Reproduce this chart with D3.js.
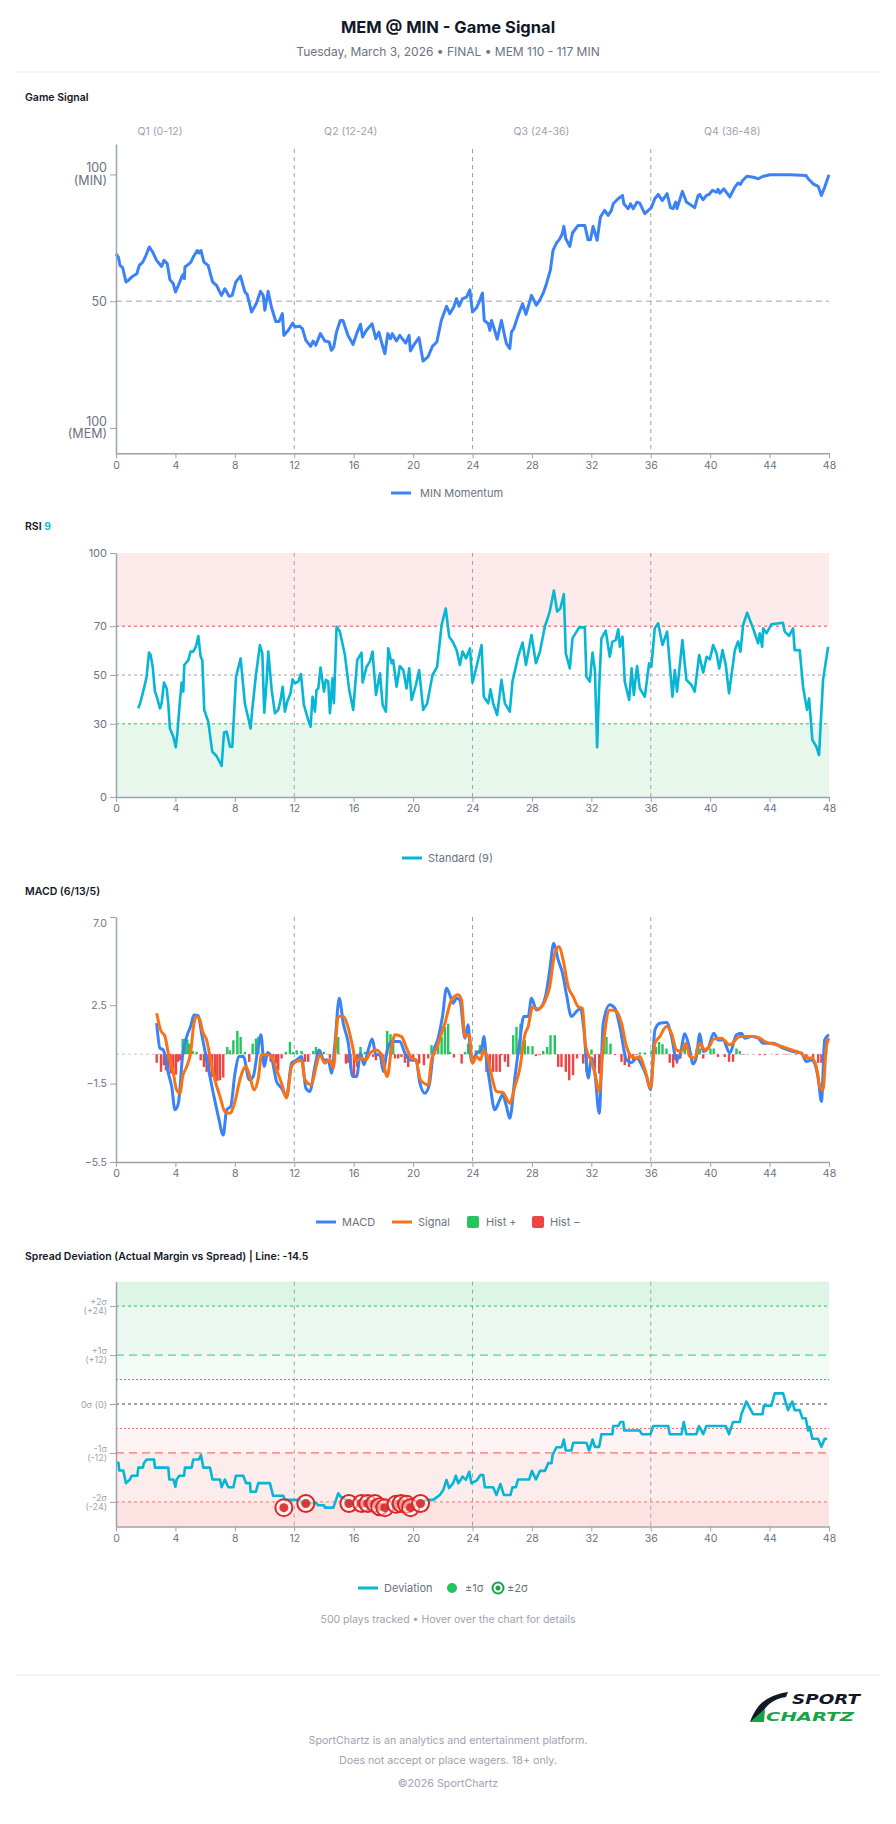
<!DOCTYPE html>
<html>
<head>
<meta charset="utf-8">
<script src="https://cdn.jsdelivr.net/npm/d3@7"></script>
<style>
  body { margin: 0; background: #fff; }
  svg text { font-family: Inter, "Noto Sans", sans-serif; }
</style>
</head>
<body>
<svg id="chart" width="896" height="1824"></svg>
<script>
// game: MEM @ MIN, minute of game on x for every panel
var quarters = ["Q1 (0-12)", "Q2 (12-24)", "Q3 (24-36)", "Q4 (36-48)"];
var minuteTicks = [0, 4, 8, 12, 16, 20, 24, 28, 32, 36, 40, 44, 48];
var quarterBreaks = [12, 24, 36];

// MIN win momentum, 0 = MEM 100, 100 = MIN 100
var gameSignal = [
  [0,68.7],[0.16,67.4],[0.27,64.1],[0.45,63.2],[0.67,57.6],[0.83,58.2],[1.05,59.5],[1.4,60.8],[1.57,64.1],
  [1.8,65.4],[2.02,68.1],[2.24,71.4],[2.47,69.4],[2.73,66.1],[3.07,63.7],[3.23,66.1],[3.45,64.8],[3.63,58.5],
  [3.86,56.9],[4.0,53.6],[4.2,56.2],[4.42,59.5],[4.53,60.6],[4.6,58.9],[4.64,63.5],[4.87,64.5],[5.04,65.4],
  [5.2,67.4],[5.47,70.0],[5.6,69.0],[5.72,70.0],[5.92,65.4],[6.2,64.1],[6.5,57.6],[6.77,56.2],[7.1,52.3],
  [7.33,54.9],[7.62,51.9],[7.82,52.3],[8.07,57.6],[8.38,59.9],[8.68,53.6],[8.83,52.7],[9.13,45.7],[9.46,49.3],
  [9.73,53.9],[9.91,52.3],[10.02,46.4],[10.24,53.9],[10.46,47.7],[10.76,42.0],[10.98,42.0],[11.2,45.1],
  [11.3,36.5],[11.6,38.5],[11.9,41.4],[12.04,39.8],[12.37,40.1],[12.55,39.2],[12.78,34.6],[13.1,32.2],
  [13.27,34.3],[13.45,32.6],[13.76,37.2],[14.06,34.3],[14.35,33.9],[14.5,30.6],[14.66,31.9],[14.84,37.8],
  [15.1,42.4],[15.28,42.4],[15.62,36.5],[15.96,32.9],[16.2,37.2],[16.46,40.9],[16.6,35.9],[16.86,38.5],
  [17.24,41.1],[17.49,35.2],[17.7,37.8],[17.87,33.9],[18.1,29.3],[18.3,37.2],[18.48,35.2],[18.6,37.2],
  [18.88,34.3],[19.1,36.5],[19.5,33.5],[19.73,36.5],[19.82,30.4],[20.1,33.2],[20.4,35.6],[20.67,26.4],
  [21.0,28.0],[21.3,32.2],[21.6,33.9],[21.9,42.4],[22.25,48.0],[22.47,45.1],[22.74,47.7],[22.92,51.0],
  [23.1,48.0],[23.33,51.0],[23.6,51.6],[23.82,54.5],[24.0,45.7],[24.27,47.4],[24.45,49.7],[24.67,53.2],
  [24.79,42.4],[25.06,41.1],[25.17,38.5],[25.28,42.4],[25.46,39.2],[25.66,35.0],[25.95,42.4],[26.18,35.9],
  [26.29,33.2],[26.51,31.3],[26.62,37.8],[26.78,39.2],[27.07,44.4],[27.37,49.0],[27.6,44.8],[27.97,52.3],
  [28.3,48.4],[28.52,50.3],[28.79,53.6],[28.98,56.9],[29.24,62.2],[29.42,70.0],[29.65,72.9],[29.87,74.6],
  [30.05,76.6],[30.15,79.5],[30.28,74.6],[30.55,71.6],[30.73,76.9],[31.11,79.9],[31.56,79.9],[31.78,74.2],
  [31.94,74.2],[32.12,79.5],[32.39,74.0],[32.61,83.2],[32.9,85.8],[33.13,83.8],[33.35,85.8],[33.47,88.4],
  [33.8,90.4],[34.1,91.7],[34.19,88.4],[34.48,86.5],[34.64,88.4],[34.82,86.5],[35.08,89.1],[35.26,88.7],
  [35.6,84.5],[36.04,86.9],[36.27,90.4],[36.5,92.1],[36.78,89.7],[37.1,92.4],[37.33,86.9],[37.5,86.5],
  [37.68,89.1],[37.77,86.5],[38.13,93.3],[38.4,89.1],[38.73,87.8],[38.96,86.9],[39.19,91.7],[39.3,92.1],
  [39.52,90.0],[39.75,91.7],[39.93,92.1],[40.15,93.7],[40.42,93.0],[40.53,94.1],[40.65,92.6],[40.92,94.3],
  [41.32,91.1],[41.66,95.0],[41.88,96.6],[42.04,96.1],[42.18,97.6],[42.49,99.3],[42.9,98.9],[43.24,98.3],
  [43.53,99.2],[44.02,99.9],[45.37,99.9],[46.45,99.6],[46.6,98.3],[46.93,96.3],[47.27,95.3],[47.49,91.7],
  [47.71,95.0],[48.0,99.9]
];

var rsi = [
  [1.5,36.3],[1.66,39.1],[1.88,44.5],[2.06,49.3],[2.22,59.2],[2.33,58.2],[2.47,53.4],[2.62,43.2],[2.78,40.4],
  [2.96,36.3],[3.07,38.4],[3.23,46.9],[3.41,44.5],[3.52,38.4],[3.63,28.1],[3.86,24.7],[4.02,20.4],[4.13,26.1],
  [4.31,39.8],[4.42,46.9],[4.53,43.2],[4.6,54.1],[4.87,56.1],[5.02,59.6],[5.2,59.6],[5.38,61.6],[5.54,66.0],
  [5.7,57.5],[5.81,56.1],[5.94,35.7],[6.21,30.9],[6.48,18.6],[6.77,16.8],[7.11,12.7],[7.27,26.4],[7.45,26.8],
  [7.67,20.6],[7.83,20.6],[8.08,49.3],[8.39,56.8],[8.68,38.1],[8.91,32.2],[9.06,28.1],[9.17,35.7],[9.42,50.0],
  [9.69,62.3],[9.85,58.9],[9.98,34.6],[10.14,47.3],[10.25,59.6],[10.48,43.9],[10.7,34.3],[10.92,35.7],
  [11.08,39.8],[11.22,45.2],[11.37,35.0],[11.53,39.1],[11.75,42.5],[11.89,48.2],[12.05,46.6],[12.27,47.3],
  [12.45,50.4],[12.65,37.7],[12.94,31.6],[13.1,28.8],[13.23,41.1],[13.39,35.0],[13.5,43.9],[13.62,44.5],
  [13.77,53.1],[14.0,43.2],[14.13,48.0],[14.29,47.3],[14.4,34.3],[14.58,48.6],[14.67,38.4],[14.85,69.8],
  [15.07,67.8],[15.41,58.2],[15.7,43.9],[15.97,35.7],[16.24,56.1],[16.53,59.2],[16.6,46.9],[16.87,53.4],
  [17.09,55.5],[17.27,59.6],[17.5,41.8],[17.77,50.7],[17.95,37.7],[18.17,35.0],[18.33,60.9],[18.55,54.8],
  [18.66,56.1],[18.89,45.2],[19.11,53.7],[19.34,52.0],[19.56,44.5],[19.74,52.7],[19.9,39.8],[20.19,45.9],
  [20.41,52.0],[20.68,35.7],[20.95,38.4],[21.31,50.0],[21.62,53.4],[21.92,70.5],[22.2,77.3],[22.43,65.7],
  [22.7,63.3],[22.93,60.2],[23.15,54.1],[23.33,59.6],[23.56,56.8],[23.83,60.9],[24.0,46.9],[24.27,53.4],
  [24.61,62.3],[24.76,41.1],[25.06,38.4],[25.21,44.1],[25.39,38.4],[25.66,33.6],[25.95,48.0],[26.18,38.4],
  [26.51,35.0],[26.69,47.3],[27.07,57.5],[27.37,63.3],[27.6,54.1],[27.97,66.4],[28.27,54.8],[28.54,59.6],
  [28.87,69.8],[29.2,76.0],[29.48,84.6],[29.7,76.0],[29.92,77.3],[30.15,83.2],[30.28,58.9],[30.55,52.7],
  [30.73,65.0],[31.18,69.5],[31.56,69.5],[31.67,49.3],[31.9,47.3],[32.08,59.2],[32.24,52.0],[32.39,20.4],
  [32.53,45.2],[32.68,65.0],[32.97,68.2],[33.24,57.5],[33.42,63.7],[33.65,64.3],[33.81,68.7],[33.92,61.6],
  [34.1,65.7],[34.25,47.3],[34.55,39.8],[34.71,52.7],[34.86,41.8],[35.08,53.7],[35.26,44.5],[35.6,41.1],
  [35.89,54.8],[36.04,53.4],[36.27,69.1],[36.5,71.2],[36.79,62.3],[37.1,67.8],[37.46,41.1],[37.62,52.0],
  [37.77,43.2],[38.13,64.3],[38.4,48.0],[38.74,45.9],[38.96,43.2],[39.26,58.2],[39.53,51.0],[39.76,57.5],
  [39.98,56.4],[40.2,62.3],[40.43,58.9],[40.61,52.7],[40.83,60.2],[41.05,54.1],[41.27,42.5],[41.66,60.2],
  [41.88,63.7],[42.04,59.6],[42.22,70.5],[42.49,75.5],[42.89,69.1],[43.23,63.0],[43.34,67.1],[43.5,61.6],
  [43.57,69.1],[43.79,67.1],[44.12,70.8],[44.9,71.4],[45.02,67.8],[45.31,66.0],[45.58,69.1],[45.69,60.2],
  [46.03,60.2],[46.25,45.2],[46.52,35.7],[46.66,40.4],[46.88,23.4],[47.15,20.6],[47.33,17.2],[47.6,48.0],
  [47.94,61.6]
];
var rsiTicks = [0, 30, 50, 70, 100];

var macd = [
  [2.74,1.58],[2.96,0.31],[3.18,0.22],[3.52,-0.97],[3.75,-1.65],[3.97,-2.84],[4.2,-2.5],[4.49,-0.03],[4.76,0.9],
  [5.02,1.41],[5.25,2.0],[5.54,1.96],[5.76,1.07],[6.1,-0.29],[6.55,-1.99],[6.89,-3.18],[7.22,-4.12],[7.45,-2.84],
  [7.72,-2.67],[8.01,-0.97],[8.3,-0.12],[8.57,-0.12],[8.98,-1.31],[9.24,-1.14],[9.51,0.05],[9.76,0.99],
  [9.98,-0.63],[10.21,0.09],[10.48,-0.2],[10.81,-1.39],[11.15,-1.73],[11.48,-2.16],[11.82,-0.46],[12.16,-0.29],
  [12.49,-0.12],[12.78,-1.73],[13.05,-1.9],[13.39,-0.63],[13.68,0.22],[13.99,-0.29],[14.29,-0.29],[14.51,-0.97],
  [14.74,0.56],[15.03,2.86],[15.3,1.58],[15.64,0.56],[15.93,-1.14],[16.2,-1.14],[16.46,0.05],[16.69,-0.54],
  [16.98,0.22],[17.25,0.77],[17.5,-0.03],[17.77,-0.03],[17.99,-0.88],[18.26,0.22],[18.55,0.65],[19.11,0.65],
  [19.45,0.05],[19.78,-0.29],[20.19,-0.29],[20.46,-1.48],[20.79,-1.99],[21.09,-1.56],[21.36,0.05],[21.69,0.82],
  [21.98,1.92],[22.25,3.37],[22.47,3.03],[22.7,2.6],[22.93,2.86],[23.15,2.77],[23.49,0.82],[23.7,1.5],
  [23.93,-0.37],[24.27,0.05],[24.61,0.22],[24.76,0.9],[24.94,-0.29],[25.17,-1.48],[25.5,-2.84],[25.79,-2.41],
  [26.02,-2.07],[26.29,-2.67],[26.51,-3.27],[26.85,-1.22],[27.19,0.73],[27.45,1.92],[27.75,1.92],[27.97,2.86],
  [28.3,2.26],[28.64,2.43],[28.94,3.03],[29.2,4.3],[29.47,5.66],[29.77,4.81],[30.06,4.13],[30.33,3.03],
  [30.66,1.92],[31.0,2.18],[31.27,2.35],[31.5,1.24],[31.79,-1.22],[32.01,-0.2],[32.24,-0.97],[32.53,-3.01],
  [32.8,1.58],[33.24,2.52],[33.58,2.35],[33.92,1.41],[34.37,-0.29],[34.71,-0.43],[35.05,-0.2],[35.38,-0.54],
  [35.72,-1.14],[35.99,-1.82],[36.28,1.24],[36.61,1.58],[37.06,1.62],[37.4,0.9],[37.73,-0.29],[38.0,0.05],
  [38.29,1.04],[38.58,0.39],[38.85,-0.49],[39.08,-0.12],[39.3,1.04],[39.53,0.14],[39.86,0.31],[40.24,1.07],
  [40.54,0.73],[40.87,0.73],[41.32,0.05],[41.77,0.99],[42.1,1.07],[42.33,0.82],[42.78,0.9],[43.23,0.82],
  [43.56,0.56],[44.24,0.56],[44.91,0.31],[45.58,0.14],[46.14,0.05],[46.48,-0.37],[46.82,-0.29],[47.26,-1.14],
  [47.49,-2.41],[47.71,0.73],[48.0,0.99]
];

var signal = [
  [2.74,2.09],[3.0,1.24],[3.3,0.9],[3.52,0.05],[3.86,-0.97],[4.08,-1.82],[4.31,-1.99],[4.49,-1.14],[4.76,-0.63],
  [5.02,0.05],[5.25,1.58],[5.43,1.92],[5.65,1.75],[5.83,1.16],[6.1,0.73],[6.37,-0.29],[6.66,-1.31],[7.0,-2.16],
  [7.33,-2.93],[7.67,-3.01],[8.01,-2.41],[8.34,-1.31],[8.74,-0.63],[9.02,-1.14],[9.28,-1.82],[9.58,-1.22],
  [9.8,-0.03],[10.14,-0.03],[10.48,-0.12],[10.81,-0.8],[11.15,-1.48],[11.48,-2.24],[11.82,-0.63],[12.16,-0.37],
  [12.49,-0.32],[12.72,-1.31],[13.16,-1.56],[13.45,-0.71],[13.72,-0.03],[14.06,-0.46],[14.4,-0.29],[14.63,-0.71],
  [14.96,1.92],[15.3,1.92],[15.64,1.33],[15.93,0.39],[16.15,-0.37],[16.46,-0.2],[16.82,-0.29],[17.09,0.05],
  [17.5,0.22],[17.88,-0.03],[18.26,-1.14],[18.55,0.31],[18.78,0.99],[19.22,0.9],[19.56,0.31],[19.9,-0.2],
  [20.19,-0.29],[20.5,-1.31],[21.02,-1.56],[21.24,-0.29],[21.58,0.31],[21.92,1.07],[22.14,1.58],[22.59,2.77],
  [23.04,3.03],[23.26,2.77],[23.49,0.9],[23.78,0.99],[24.0,-0.46],[24.27,-0.12],[24.54,-0.29],[24.76,0.22],
  [25.06,-0.29],[25.35,-1.31],[25.61,-1.9],[26.06,-1.96],[26.51,-2.5],[26.85,-1.65],[27.19,-0.71],[27.52,0.99],
  [27.75,1.41],[28.04,2.4],[28.42,2.3],[28.87,2.69],[29.2,3.45],[29.54,5.15],[29.83,5.49],[30.1,4.81],
  [30.44,3.45],[30.78,2.94],[31.11,2.43],[31.4,2.35],[31.62,0.39],[32.01,-0.37],[32.24,-0.97],[32.53,-1.9],
  [32.8,0.39],[33.24,2.26],[33.69,2.18],[34.03,1.58],[34.37,0.39],[34.71,-0.12],[35.05,-0.2],[35.27,-0.12],
  [35.61,-0.8],[35.99,-1.73],[36.28,0.56],[36.61,0.9],[37.06,1.41],[37.4,1.07],[37.73,0.22],[38.07,0.14],
  [38.36,0.56],[38.63,-0.12],[38.97,-0.2],[39.3,0.56],[39.64,0.22],[39.94,0.39],[40.24,0.77],[40.76,0.82],
  [41.32,0.48],[42.0,0.9],[42.89,0.9],[43.34,0.82],[43.68,0.65],[44.46,0.48],[45.13,0.31],[45.8,0.14],
  [46.14,0.05],[46.48,-0.2],[46.82,-0.2],[47.15,-0.63],[47.37,-1.65],[47.6,-1.82],[47.82,0.39],[48.0,0.82]
];

var histogram = [
  [2.74,-0.44],[3.03,-0.9],[3.23,-0.56],[3.36,-0.82],[3.52,-0.73],[3.68,-0.99],[3.86,-1.04],[4.04,-1.04],
  [4.19,-0.39],[4.31,-0.31],[4.49,0.78],[4.64,0.78],[4.8,0.75],[4.93,0.54],[5.16,0.17],[5.43,0.12],
  [5.7,-0.31],[5.92,-0.65],[6.1,-0.9],[6.28,-1.07],[6.46,-1.16],[6.66,-1.33],[6.82,-1.36],[7.0,-1.33],
  [7.22,-1.19],[7.49,0.37],[7.67,0.2],[7.9,0.71],[8.17,1.19],[8.39,0.88],[8.68,0.12],[8.97,-0.39],
  [9.2,0.54],[9.42,0.8],[9.58,0.88],[9.8,-0.14],[9.98,-0.17],[10.14,-0.14],[10.41,-0.39],[10.59,-0.39],
  [10.77,-0.48],[10.92,-0.82],[11.15,-0.22],[11.44,0.12],[11.71,0.63],[11.93,0.12],[12.16,0.2],[12.49,0.17],
  [12.72,-0.39],[12.94,-0.39],[13.28,0.17],[13.46,0.37],[13.73,0.2],[14.0,0.12],[14.4,-0.22],[14.96,0.88],
  [15.48,-0.48],[15.64,-0.44],[15.79,-0.73],[16.02,-1.07],[16.24,-0.65],[16.46,0.37],[16.76,0.12],
  [16.98,0.12],[17.32,-0.14],[17.5,-0.31],[17.77,0.12],[17.99,-0.39],[18.26,1.19],[18.48,1.02],[18.66,0.8],
  [18.78,-0.22],[19.0,-0.22],[19.22,-0.14],[19.45,-0.44],[19.67,-0.65],[20.01,-0.39],[20.41,-0.48],
  [20.73,-0.56],[21.02,-0.22],[21.24,0.46],[21.47,0.46],[21.69,0.54],[21.92,0.88],[22.14,1.39],[22.36,1.56],
  [22.48,0.12],[22.75,-0.17],[23.27,-0.48],[23.49,0.12],[23.71,0.54],[24.23,0.2],[24.5,0.46],[24.94,-0.9],
  [25.17,-0.9],[25.39,-0.9],[25.61,-0.9],[25.84,-0.9],[25.95,-0.05],[26.18,-0.39],[26.4,-0.65],[26.74,0.97],
  [26.96,1.39],[27.23,1.56],[27.52,0.71],[27.75,0.41],[28.04,0.41],[28.27,-0.1],[28.53,-0.05],[28.76,0.17],
  [29.03,0.37],[29.25,0.97],[29.54,0.97],[29.77,-0.65],[29.99,-0.65],[30.28,-0.9],[30.51,-1.33],[30.77,-1.07],
  [31.04,-0.22],[31.45,-0.48],[31.67,-0.9],[32.01,0.24],[32.24,-0.73],[32.53,-0.99],[32.84,0.54],[33.02,0.88],
  [33.29,0.54],[33.58,-0.05],[34.03,-0.39],[34.25,-0.56],[34.54,-0.65],[34.81,-0.31],[35.04,-0.05],
  [35.27,0.09],[35.6,0.09],[36.05,0.2],[36.34,0.37],[36.56,0.63],[36.79,0.51],[37.06,0.29],[37.28,-0.44],
  [37.51,-0.68],[37.77,-0.48],[38.0,-0.22],[38.29,0.37],[38.63,-0.14],[39.08,0.29],[39.3,0.29],[39.53,-0.22],
  [40.02,0.29],[40.24,0.29],[40.53,-0.14],[40.98,-0.14],[41.27,-0.39],[41.54,-0.39],[41.77,0.29],[41.99,0.17],
  [42.26,-0.03],[43.34,-0.05],[43.67,-0.05],[44.46,-0.03],[45.13,-0.03],[45.8,-0.03],[46.48,-0.22],
  [46.93,-0.22],[47.27,-0.44],[47.49,-0.44],[47.82,0.71]
];
var macdTicks = [-5.5, -1.5, 2.5, 7.0];

// actual margin minus spread (MIN perspective), sigma = 12
var deviation = [
  [0,-14.4],[0.16,-14.4],[0.22,-16.3],[0.49,-16.3],[0.67,-19.4],[0.94,-18.5],[1.05,-17.6],[1.44,-17.6],
  [1.5,-15.6],[1.8,-15.6],[1.88,-14.5],[2.06,-13.6],[2.56,-13.6],[2.62,-15.6],[3.52,-15.6],[3.59,-18.5],
  [3.86,-18.5],[4.0,-20.3],[4.08,-18.5],[4.26,-17.6],[4.58,-17.6],[4.64,-15.6],[5.09,-15.6],[5.2,-13.6],
  [5.58,-13.6],[5.72,-12.5],[5.88,-15.6],[6.33,-15.6],[6.5,-18.5],[7.0,-18.5],[7.11,-20.4],[7.33,-18.5],
  [7.56,-20.4],[7.9,-20.4],[8.07,-17.6],[8.57,-17.6],[8.75,-19.4],[9.02,-19.4],[9.06,-21.5],[9.42,-21.5],
  [9.58,-19.4],[10.36,-19.4],[10.58,-22.5],[11.26,-22.5],[11.37,-23.5],[12.38,-23.5],[12.49,-24.3],
  [13.5,-24.3],[13.6,-24.8],[14.0,-24.8],[14.06,-25.4],[14.63,-25.4],[14.74,-24.3],[14.96,-21.9],
  [15.12,-22.7],[15.52,-23.5],[15.68,-24.4],[16.1,-24.4],[16.2,-23.5],[16.5,-24.4],[17.4,-24.4],[17.6,-25.2],
  [18.1,-25.4],[18.5,-24.8],[18.9,-24.4],[19.5,-24.4],[19.8,-25.4],[20.2,-24.4],[20.5,-24.4],[20.9,-23.5],
  [21.36,-23.5],[21.8,-22.3],[22.03,-21.1],[22.25,-18.6],[22.43,-20.6],[22.7,-19.4],[22.88,-17.6],
  [23.04,-19.4],[23.2,-18.6],[23.33,-17.8],[23.56,-18.6],[23.78,-16.6],[23.93,-19.4],[24.27,-18.8],
  [24.54,-17.4],[24.72,-17.4],[24.83,-20.4],[25.39,-20.4],[25.61,-22.3],[25.88,-19.6],[26.11,-22.3],
  [26.56,-22.3],[26.69,-20.4],[26.92,-20.4],[27.07,-18.5],[27.82,-18.5],[28.0,-16.4],[28.27,-18.5],
  [28.54,-16.4],[28.87,-16.4],[29.1,-14.5],[29.32,-14.5],[29.39,-12.5],[29.66,-10.6],[30.0,-10.6],
  [30.15,-8.7],[30.28,-11.4],[30.66,-11.4],[30.78,-9.5],[31.67,-9.5],[31.85,-11.4],[32.08,-8.7],
  [32.24,-10.5],[32.53,-10.5],[32.68,-7.4],[33.42,-7.4],[33.47,-5.4],[33.81,-5.4],[33.96,-4.4],[34.15,-4.4],
  [34.21,-6.5],[35.26,-6.5],[35.4,-7.4],[35.98,-7.4],[36.16,-5.4],[37.17,-5.4],[37.28,-7.4],[38.07,-7.4],
  [38.22,-4.4],[38.4,-7.4],[39.07,-7.4],[39.25,-5.4],[39.53,-7.4],[39.75,-5.4],[41.05,-5.4],[41.27,-7.4],
  [41.54,-4.4],[42.0,-4.4],[42.1,-2.5],[42.44,0.6],[42.89,-2.5],[43.52,-2.5],[43.61,-0.4],[44.12,-0.4],
  [44.35,2.6],[44.91,2.6],[45.24,-1.5],[45.53,0.6],[45.69,-1.5],[46.03,-1.5],[46.21,-3.5],[46.43,-3.5],
  [46.59,-6.5],[46.7,-5.6],[46.88,-8.5],[47.26,-8.5],[47.49,-10.5],[47.71,-8.5],[47.87,-8.5]
];
// plays that crossed 2 sigma
var twoSigmaPlays = [
  [11.3,-25.4],[12.78,-24.4],[15.68,-24.4],[16.53,-24.4],[16.95,-24.4],[17.43,-24.4],[17.75,-25.2],
  [18.1,-25.4],[18.85,-24.6],[19.2,-24.4],[19.56,-24.6],[19.83,-25.4],[20.5,-24.4]
];
var sigmaLabels = [
  { v: 24, lines: ["+2σ", "(+24)"] },
  { v: 12, lines: ["+1σ", "(+12)"] },
  { v: 0, lines: ["0σ (0)"] },
  { v: -12, lines: ["-1σ", "(-12)"] },
  { v: -24, lines: ["-2σ", "(-24)"] }
];
var footerLines = ["SportChartz is an analytics and entertainment platform.", "Does not accept or place wagers. 18+ only.", "©2026 SportChartz"];

var ink = "#111827", muted = "#6b7280", faint = "#9ca3af";
var blue = "#3b82f6", cyan = "#06b6d4", orange = "#f97316", green = "#22c55e", red = "#ef4444";

var svg = d3.select("#chart");
var x = d3.scaleLinear().domain([0, 48]).range([116, 829]);

// ---- header
svg.append("text").attr("x", 448).attr("y", 33).attr("text-anchor", "middle")
  .attr("font-size", 16.5).attr("font-weight", 700).attr("fill", ink)
  .text("MEM @ MIN - Game Signal");
svg.append("text").attr("x", 448).attr("y", 56).attr("text-anchor", "middle")
  .attr("font-size", 12).attr("fill", muted)
  .text("Tuesday, March 3, 2026 • FINAL • MEM 110 - 117 MIN");
svg.append("line").attr("x1", 16).attr("x2", 880).attr("y1", 72).attr("y2", 72)
  .attr("stroke", "#e5e7eb");

function sectionTitle(y, text, accent) {
  var t = svg.append("text").attr("x", 25).attr("y", y).attr("font-size", 10.5)
    .attr("font-weight", 600).attr("fill", ink).text(text);
  if (accent) t.append("tspan").attr("fill", cyan).text(" " + accent);
}

function styleAxis(a, size) {
  a.select(".domain").attr("stroke", faint).attr("stroke-width", 1.5);
  a.selectAll(".tick line").attr("stroke", faint);
  a.selectAll(".tick text").attr("fill", muted).style("font-size", (size || 10.5) + "px");
}

function xAxis(y0) {
  var a = svg.append("g").attr("transform", "translate(0," + y0 + ")")
    .call(d3.axisBottom(x).tickValues(minuteTicks).tickSize(5).tickSizeOuter(0).tickPadding(3));
  styleAxis(a);
}

function yAxis(scale, ticks, fmt, size) {
  var a = svg.append("g").attr("transform", "translate(" + x(0) + ",0)")
    .call(d3.axisLeft(scale).tickValues(ticks).tickFormat(fmt).tickSize(6).tickSizeOuter(0).tickPadding(3));
  styleAxis(a, size);
  return a;
}

function quarterLines(top, bottom) {
  svg.append("g").selectAll("line").data(quarterBreaks).enter().append("line")
    .attr("x1", d => x(d)).attr("x2", d => x(d)).attr("y1", top).attr("y2", bottom)
    .attr("stroke", faint).attr("stroke-dasharray", "4,4");
}

function hline(yv, color, dash, width) {
  svg.append("line").attr("x1", x(0)).attr("x2", x(48)).attr("y1", yv).attr("y2", yv)
    .attr("stroke", color).attr("stroke-dasharray", dash).attr("stroke-width", width || 1);
}

// multi-line tick labels (two short lines stacked on the tick)
function stackLabels(axisG, linesFor, color) {
  axisG.selectAll(".tick").each(function (d) {
    var lines = linesFor(d);
    var t = d3.select(this).select("text").attr("dy", null);
    if (color) t.attr("fill", color);
    lines.forEach(function (s, i) {
      t.append("tspan").attr("x", -9)
        .attr("dy", i == 0 ? (lines.length > 1 ? "-0.2em" : "0.35em") : "1em").text(s);
    });
  });
}

function legend(y0, items) {
  var g = svg.append("g").attr("transform", "translate(0," + y0 + ")");
  items.forEach(function (it) {
    if (it.kind == "line") {
      g.append("line").attr("x1", it.x).attr("x2", it.x + 20).attr("y1", 0).attr("y2", 0)
        .attr("stroke", it.color).attr("stroke-width", 3);
    } else if (it.kind == "box") {
      g.append("rect").attr("x", it.x).attr("y", -6).attr("width", 12).attr("height", 12).attr("rx", 2)
        .attr("fill", it.color);
    } else if (it.kind == "dot") {
      g.append("circle").attr("cx", it.x + 5).attr("cy", 0).attr("r", 5).attr("fill", it.color);
    } else if (it.kind == "ring") {
      g.append("circle").attr("cx", it.x + 6).attr("cy", 0).attr("r", 5.5).attr("fill", "none")
        .attr("stroke", it.color).attr("stroke-width", 2);
      g.append("circle").attr("cx", it.x + 6).attr("cy", 0).attr("r", 2.5).attr("fill", it.color);
    }
    g.append("text").attr("x", it.tx).attr("y", 0).attr("dy", "0.35em").attr("font-size", 11)
      .attr("fill", muted).text(it.label);
  });
}

// ---- 1. Game Signal
sectionTitle(101, "Game Signal");
var y1 = d3.scaleLinear().domain([-10, 112]).range([453.3, 144]);
var qBand = d3.scaleBand().domain(quarters).range([64.6, 827.6]);
svg.append("g").selectAll("text").data(quarters).enter().append("text")
  .attr("x", d => qBand(d) + qBand.bandwidth() / 2).attr("y", 131).attr("dy", "0.35em")
  .attr("text-anchor", "middle").attr("font-size", 10.5).attr("fill", faint).text(d => d);
quarterLines(149, y1(-10));
hline(y1(50), faint, "6,4");
svg.append("path").datum(gameSignal)
  .attr("fill", "none").attr("stroke", blue).attr("stroke-width", 3).attr("stroke-linejoin", "round")
  .attr("d", d3.line().x(d => x(d[0])).y(d => y1(d[1])));
var a1 = yAxis(y1, [0, 50, 100], () => "", 12.5);
var y1Labels = { 100: ["100", "(MIN)"], 50: ["50"], 0: ["100", "(MEM)"] };
stackLabels(a1, d => y1Labels[d]);
xAxis(y1(-10));
legend(493, [{ kind: "line", x: 391, color: blue, tx: 420, label: "MIN Momentum" }]);

// ---- 2. RSI
sectionTitle(530, "RSI", "9");
var y2 = d3.scaleLinear().domain([0, 100]).range([797, 553]);
svg.append("rect").attr("x", x(0)).attr("width", x(48) - x(0)).attr("y", y2(100)).attr("height", y2(70) - y2(100))
  .attr("fill", "#fdeaea");
svg.append("rect").attr("x", x(0)).attr("width", x(48) - x(0)).attr("y", y2(30)).attr("height", y2(0) - y2(30))
  .attr("fill", "#e7f7ec");
quarterLines(y2(100), y2(0));
hline(y2(70), red, "3,3");
hline(y2(50), faint, "3,3");
hline(y2(30), green, "3,3");
svg.append("path").datum(rsi)
  .attr("fill", "none").attr("stroke", cyan).attr("stroke-width", 2.6).attr("stroke-linejoin", "round")
  .attr("d", d3.line().x(d => x(d[0])).y(d => y2(d[1])));
yAxis(y2, rsiTicks, d3.format("d"), 11);
xAxis(y2(0));
legend(858, [{ kind: "line", x: 402, color: cyan, tx: 428, label: "Standard (9)" }]);

// ---- 3. MACD
sectionTitle(895, "MACD (6/13/5)");
var y3 = d3.scaleLinear().domain([-5.5, 7]).range([1162, 917]);
quarterLines(y3(7), y3(-5.5));
hline(y3(0), "#c4c8cf", "3,3");
svg.append("g").selectAll("rect").data(histogram).enter().append("rect")
  .attr("x", d => x(d[0]) - 1.2).attr("width", 2.4)
  .attr("y", d => Math.min(y3(0), y3(d[1]))).attr("height", d => Math.abs(y3(d[1]) - y3(0)))
  .attr("fill", d => d[1] >= 0 ? green : red);
var smooth = d3.line().curve(d3.curveMonotoneX).x(d => x(d[0])).y(d => y3(d[1]));
svg.append("path").datum(macd).attr("fill", "none").attr("stroke", blue).attr("stroke-width", 3).attr("d", smooth);
svg.append("path").datum(signal).attr("fill", "none").attr("stroke", orange).attr("stroke-width", 3).attr("d", smooth);
var a3 = yAxis(y3, macdTicks, d3.format(".1f"));
a3.selectAll(".tick text").filter(d => d == 7).attr("dy", "0.95em");
xAxis(y3(-5.5));
legend(1222, [
  { kind: "line", x: 316, color: blue, tx: 342, label: "MACD" },
  { kind: "line", x: 392, color: orange, tx: 418, label: "Signal" },
  { kind: "box", x: 467, color: green, tx: 486, label: "Hist +" },
  { kind: "box", x: 532, color: red, tx: 550, label: "Hist −" }
]);

// ---- 4. Spread deviation
sectionTitle(1260, "Spread Deviation (Actual Margin vs Spread) | Line: -14.5");
var y4 = d3.scaleLinear().domain([-30, 30]).range([1526.4, 1281.6]);
var zones = [[24, 30, "#dcf5e5"], [12, 24, "#ebf8f0"], [6, 12, "#f3fbf6"],
             [-12, -6, "#fef4f4"], [-24, -12, "#fdecec"], [-30, -24, "#fde2e2"]];
svg.append("g").selectAll("rect").data(zones).enter().append("rect")
  .attr("x", x(0)).attr("width", x(48) - x(0))
  .attr("y", d => y4(d[1])).attr("height", d => y4(d[0]) - y4(d[1])).attr("fill", d => d[2]);
quarterLines(y4(30), y4(-30));
hline(y4(24), green, "3,3");
hline(y4(12), "#4ade80", "8,5", 1.2);
hline(y4(6), green, "2,2");
hline(y4(0), faint, "3,3", 2);
hline(y4(-6), "#f87171", "2,2");
hline(y4(-12), "#f87171", "8,5", 1.2);
hline(y4(-24), "#f87171", "3,3");
svg.append("path").datum(deviation)
  .attr("fill", "none").attr("stroke", cyan).attr("stroke-width", 2.6).attr("stroke-linejoin", "round")
  .attr("d", d3.line().x(d => x(d[0])).y(d => y4(d[1])));
var marks = svg.append("g").selectAll("g").data(twoSigmaPlays).enter().append("g")
  .attr("transform", d => "translate(" + x(d[0]) + "," + y4(d[1]) + ")");
marks.append("circle").attr("r", 8.5).attr("fill", "rgba(255,255,255,0.5)").attr("stroke", "#dc2626").attr("stroke-width", 2);
marks.append("circle").attr("r", 4.5).attr("fill", "#dc2626").attr("opacity", 0.9);
var a4 = yAxis(y4, sigmaLabels.map(d => d.v), () => "", 9);
stackLabels(a4, d => sigmaLabels.find(s => s.v == d).lines, faint);
xAxis(y4(-30));
legend(1588, [
  { kind: "line", x: 358, color: cyan, tx: 384, label: "Deviation" },
  { kind: "dot", x: 447, color: green, tx: 465, label: "±1σ" },
  { kind: "ring", x: 492, color: "#16a34a", tx: 507, label: "±2σ" }
]);
svg.append("text").attr("x", 448).attr("y", 1619).attr("dy", "0.35em").attr("text-anchor", "middle")
  .attr("font-size", 10.5).attr("fill", faint).text("500 plays tracked • Hover over the chart for details");

// ---- footer
svg.append("line").attr("x1", 16).attr("x2", 880).attr("y1", 1675).attr("y2", 1675).attr("stroke", "#e5e7eb");
var logo = svg.append("g");
logo.append("path").attr("d", "M750,1722 C756,1707 763,1696 788,1692 L786,1697 C772,1699 766,1706 759,1717 Z").attr("fill", ink);
logo.append("path").attr("d", "M750,1722 L765,1709 L764,1722 Z").attr("fill", "#16a34a");
logo.append("text").attr("x", 792).attr("y", 1704).attr("font-size", 14)
  .attr("font-weight", 800).attr("font-style", "italic").attr("fill", ink)
  .attr("textLength", 68).attr("lengthAdjust", "spacingAndGlyphs")
  .style("font-family", "'DejaVu Sans', sans-serif").text("SPORT");
logo.append("text").attr("x", 766).attr("y", 1721).attr("font-size", 13)
  .attr("font-weight", 600).attr("font-style", "italic").attr("fill", "#16a34a")
  .attr("textLength", 88).attr("lengthAdjust", "spacingAndGlyphs")
  .style("font-family", "'DejaVu Sans', sans-serif").text("CHARTZ");
svg.append("g").selectAll("text").data(footerLines).enter().append("text")
  .attr("x", 448).attr("y", (d, i) => [1740, 1760, 1783][i]).attr("dy", "0.35em").attr("text-anchor", "middle")
  .attr("font-size", 10.7).attr("fill", faint).text(d => d);
</script>
</body>
</html>
